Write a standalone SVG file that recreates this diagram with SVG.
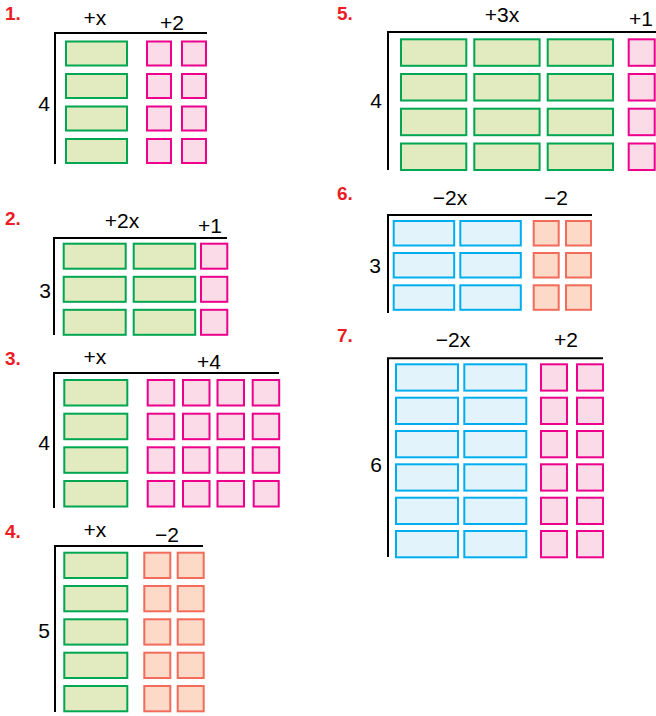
<svg xmlns="http://www.w3.org/2000/svg" width="656" height="716" viewBox="0 0 656 716">
<style>
.g{fill:#e1ebbf;stroke:#00a651;stroke-width:2}
.p{fill:#fadbe7;stroke:#ec008c;stroke-width:2}
.s{fill:#fdd9c7;stroke:#f26b5b;stroke-width:2}
.b{fill:#e3f3fb;stroke:#00aeef;stroke-width:2}
.ax{fill:none;stroke:#000;stroke-width:2}
.t{font-family:"Liberation Sans",Arial,sans-serif;font-size:21px;fill:#000;text-anchor:middle}
.n{font-family:"Liberation Sans",Arial,sans-serif;font-size:19px;font-weight:bold;fill:#ed1c24}
</style>
<rect width="656" height="716" fill="#fff"/>

<g id="p1">
<text class="n" x="5" y="20">1.</text>
<text class="t" x="95" y="25">+x</text><text class="t" x="172" y="30">+2</text><text class="t" x="44" y="111">4</text>
<path class="ax" d="M207,33H55V164"/>
<g class="g"><rect x="66" y="41.5" width="61" height="24"/><rect x="66" y="74" width="61" height="24"/><rect x="66" y="106.5" width="61" height="24"/><rect x="66" y="139" width="61" height="24"/></g>
<g class="p"><rect x="147" y="41.5" width="24" height="24"/><rect x="182" y="41.5" width="24" height="24"/><rect x="147" y="74" width="24" height="24"/><rect x="182" y="74" width="24" height="24"/><rect x="147" y="106.5" width="24" height="24"/><rect x="182" y="106.5" width="24" height="24"/><rect x="147" y="139" width="24" height="24"/><rect x="182" y="139" width="24" height="24"/></g>
</g>

<g id="p2">
<text class="n" x="5" y="225">2.</text>
<text class="t" x="122" y="228">+2x</text><text class="t" x="210" y="233">+1</text><text class="t" x="45" y="298">3</text>
<path class="ax" d="M227,238H54V335"/>
<g class="g"><rect x="63.7" y="243.7" width="62" height="25"/><rect x="133.7" y="243.7" width="61.5" height="25"/><rect x="63.7" y="276.8" width="62" height="25"/><rect x="133.7" y="276.8" width="61.5" height="25"/><rect x="63.7" y="309.8" width="62" height="25"/><rect x="133.7" y="309.8" width="61.5" height="25"/></g>
<g class="p"><rect x="201" y="243.7" width="26.3" height="25"/><rect x="201" y="276.8" width="26.3" height="25"/><rect x="201" y="309.8" width="26.3" height="25"/></g>
</g>

<g id="p3">
<text class="n" x="5" y="365">3.</text>
<text class="t" x="95" y="364">+x</text><text class="t" x="209" y="369">+4</text><text class="t" x="44" y="450">4</text>
<path class="ax" d="M279,373H54V508"/>
<g class="g"><rect x="64.3" y="380" width="63" height="25.5"/><rect x="64.3" y="413.7" width="63" height="25.5"/><rect x="64.3" y="447.3" width="63" height="25.5"/><rect x="64.3" y="481" width="63" height="25.5"/></g>
<g class="p">
<rect x="147.7" y="380" width="26.5" height="25.5"/><rect x="183" y="380" width="26.5" height="25.5"/><rect x="217.5" y="380" width="26.5" height="25.5"/><rect x="252.7" y="380" width="26.5" height="25.5"/>
<rect x="147.7" y="413.7" width="26.5" height="25.5"/><rect x="183" y="413.7" width="26.5" height="25.5"/><rect x="217.5" y="413.7" width="26.5" height="25.5"/><rect x="252.7" y="413.7" width="26.5" height="25.5"/>
<rect x="147.7" y="447.3" width="26.5" height="25.5"/><rect x="183" y="447.3" width="26.5" height="25.5"/><rect x="217.5" y="447.3" width="26.5" height="25.5"/><rect x="252.7" y="447.3" width="26.5" height="25.5"/>
<rect x="147.7" y="481" width="26.5" height="25.5"/><rect x="183" y="481" width="26.5" height="25.5"/><rect x="217.5" y="481" width="26.5" height="25.5"/><rect x="253.7" y="481" width="25" height="25.5"/>
</g>
</g>

<g id="p4">
<text class="n" x="5" y="538">4.</text>
<text class="t" x="95" y="537">+x</text><text class="t" x="167" y="542">−2</text><text class="t" x="44" y="638">5</text>
<path class="ax" d="M203,546H55V712"/>
<g class="g"><rect x="64.3" y="552.7" width="63" height="25.3"/><rect x="64.3" y="586" width="63" height="25.3"/><rect x="64.3" y="619.3" width="63" height="25.3"/><rect x="64.3" y="652.7" width="63" height="25.3"/><rect x="64.3" y="686" width="63" height="25.3"/></g>
<g class="s"><rect x="144.3" y="552.7" width="26" height="25.3"/><rect x="177.7" y="552.7" width="26" height="25.3"/><rect x="144.3" y="586" width="26" height="25.3"/><rect x="177.7" y="586" width="26" height="25.3"/><rect x="144.3" y="619.3" width="26" height="25.3"/><rect x="177.7" y="619.3" width="26" height="25.3"/><rect x="144.3" y="652.7" width="26" height="25.3"/><rect x="177.7" y="652.7" width="26" height="25.3"/><rect x="144.3" y="686" width="26" height="25.3"/><rect x="177.7" y="686" width="26" height="25.3"/></g>
</g>

<g id="p5">
<text class="n" x="337" y="20">5.</text>
<text class="t" x="502" y="22">+3x</text><text class="t" x="641" y="26">+1</text><text class="t" x="376" y="108">4</text>
<path class="ax" d="M656,32H388V170"/>
<g class="g">
<rect x="401" y="39.3" width="65.3" height="26.5"/><rect x="474.3" y="39.3" width="65.3" height="26.5"/><rect x="547.7" y="39.3" width="65.3" height="26.5"/>
<rect x="401" y="74" width="65.3" height="26.5"/><rect x="474.3" y="74" width="65.3" height="26.5"/><rect x="547.7" y="74" width="65.3" height="26.5"/>
<rect x="401" y="108.7" width="65.3" height="26.5"/><rect x="474.3" y="108.7" width="65.3" height="26.5"/><rect x="547.7" y="108.7" width="65.3" height="26.5"/>
<rect x="401" y="143.5" width="65.3" height="26.5"/><rect x="474.3" y="143.5" width="65.3" height="26.5"/><rect x="547.7" y="143.5" width="65.3" height="26.5"/>
</g>
<g class="p"><rect x="628.7" y="39.3" width="26" height="26.5"/><rect x="628.7" y="74" width="26" height="26.5"/><rect x="628.7" y="108.7" width="26" height="26.5"/><rect x="628.7" y="143.5" width="26" height="26.5"/></g>
</g>

<g id="p6">
<text class="n" x="337" y="200">6.</text>
<text class="t" x="450" y="205">−2x</text><text class="t" x="556" y="205">−2</text><text class="t" x="375" y="273">3</text>
<path class="ax" d="M592,215H388V313"/>
<g class="b"><rect x="393.7" y="221" width="60.5" height="24.5"/><rect x="460.3" y="221" width="60.5" height="24.5"/><rect x="393.7" y="253" width="60.5" height="24.5"/><rect x="460.3" y="253" width="60.5" height="24.5"/><rect x="393.7" y="285.3" width="60.5" height="24.5"/><rect x="460.3" y="285.3" width="60.5" height="24.5"/></g>
<g class="s"><rect x="533.7" y="221" width="25" height="24.5"/><rect x="566" y="221" width="25" height="24.5"/><rect x="533.7" y="253" width="25" height="24.5"/><rect x="566" y="253" width="25" height="24.5"/><rect x="533.7" y="285.3" width="25" height="24.5"/><rect x="566" y="285.3" width="25" height="24.5"/></g>
</g>

<g id="p7">
<text class="n" x="337" y="342">7.</text>
<text class="t" x="453" y="347">−2x</text><text class="t" x="566" y="347">+2</text><text class="t" x="376" y="472">6</text>
<path class="ax" d="M603,358.3H388V557"/>
<g class="b">
<rect x="396" y="364.3" width="62" height="26.3"/><rect x="464.3" y="364.3" width="62" height="26.3"/>
<rect x="396" y="397.7" width="62" height="26.3"/><rect x="464.3" y="397.7" width="62" height="26.3"/>
<rect x="396" y="431" width="62" height="26.3"/><rect x="464.3" y="431" width="62" height="26.3"/>
<rect x="396" y="464.3" width="62" height="26.3"/><rect x="464.3" y="464.3" width="62" height="26.3"/>
<rect x="396" y="497.7" width="62" height="26.3"/><rect x="464.3" y="497.7" width="62" height="26.3"/>
<rect x="396" y="531" width="62" height="26.3"/><rect x="464.3" y="531" width="62" height="26.3"/>
</g>
<g class="p">
<rect x="541" y="364.3" width="26" height="26.3"/><rect x="577" y="364.3" width="26" height="26.3"/>
<rect x="541" y="397.7" width="26" height="26.3"/><rect x="577" y="397.7" width="26" height="26.3"/>
<rect x="541" y="431" width="26" height="26.3"/><rect x="577" y="431" width="26" height="26.3"/>
<rect x="541" y="464.3" width="26" height="26.3"/><rect x="577" y="464.3" width="26" height="26.3"/>
<rect x="541" y="497.7" width="26" height="26.3"/><rect x="577" y="497.7" width="26" height="26.3"/>
<rect x="541" y="531" width="26" height="26.3"/><rect x="577" y="531" width="26" height="26.3"/>
</g>
</g>
</svg>
